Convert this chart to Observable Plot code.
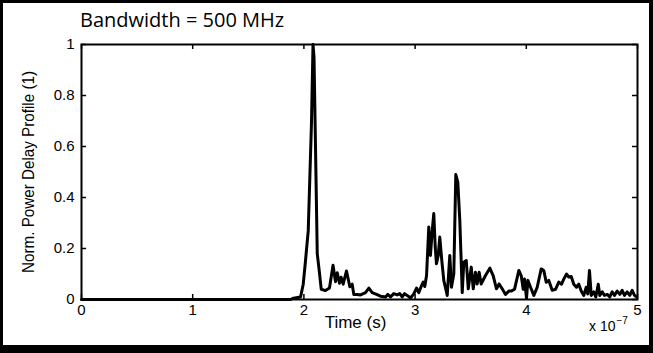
<!DOCTYPE html>
<html>
<head>
<meta charset="utf-8">
<script src="https://cdn.jsdelivr.net/npm/d3@7"></script>
<script src="https://cdn.jsdelivr.net/npm/@observablehq/plot@0.6"></script>
<style>
  html, body { margin: 0; padding: 0; background: white; }
  #wrap { position: relative; width: 653px; height: 353px; overflow: hidden; background: white; }
  #chart { position: absolute; left: 0; top: 0; }
  #border { position: absolute; left: 0; top: 0; width: 653px; height: 353px; box-sizing: border-box;
            border-style: solid; border-color: black; border-width: 3px 4px 8px 3px; pointer-events: none; }
  #title { position: absolute; left: 80px; top: 6px; font-family: "Open Sans", sans-serif; font-size: 20px; color: black; white-space: nowrap; }
</style>
</head>
<body>
<div id="wrap">
  <div id="chart"></div>
  <div id="title">Bandwidth = 500 MHz</div>
  <div id="border"></div>
</div>
<script>
const titleText = "Bandwidth = 500 MHz";
const xLabel = "Time (s)";
const yLabel = "Norm. Power Delay Profile (1)";
const xTicks = [0, 1, 2, 3, 4, 5];
const yTicks = [0, 0.2, 0.4, 0.6, 0.8, 1];
// time in units of 1e-7 s
const timeE7 = [
  0, 1.0, 1.88, 1.906, 1.97, 1.994, 2.014, 2.039, 2.068, 2.082,
  2.091, 2.102, 2.12, 2.136, 2.156, 2.194, 2.23, 2.262, 2.284, 2.30,
  2.32, 2.335, 2.353, 2.383, 2.413, 2.434, 2.449, 2.479, 2.509, 2.554,
  2.584, 2.614, 2.653, 2.689, 2.734, 2.754, 2.779, 2.808, 2.839, 2.862,
  2.884, 2.905, 2.929, 2.959, 2.988, 3.013, 3.033, 3.055, 3.073, 3.087,
  3.103, 3.123, 3.138, 3.154, 3.168, 3.181, 3.192, 3.208, 3.222, 3.24,
  3.258, 3.289, 3.312, 3.327, 3.348, 3.366, 3.384, 3.402, 3.424, 3.438,
  3.46, 3.478, 3.505, 3.523, 3.543, 3.558, 3.576, 3.594, 3.633, 3.672,
  3.702, 3.732, 3.756, 3.783, 3.813, 3.843, 3.864, 3.894, 3.933, 3.954,
  3.972, 3.984, 4.002, 4.014, 4.038, 4.068, 4.098, 4.134, 4.157, 4.179,
  4.202, 4.233, 4.263, 4.292, 4.317, 4.337, 4.362, 4.382, 4.404, 4.427,
  4.451, 4.472, 4.494, 4.517, 4.539, 4.553, 4.568, 4.584, 4.607, 4.625,
  4.647, 4.661, 4.683, 4.703, 4.728, 4.751, 4.772, 4.793, 4.817, 4.841,
  4.862, 4.883, 4.907, 4.931, 4.952, 4.973, 4.99
];
const power = [
  0, 0, 0, 0.005, 0.01, 0.06, 0.15, 0.27, 0.69, 1.0,
  0.95, 0.66, 0.18, 0.12, 0.04, 0.035, 0.045, 0.134, 0.07, 0.105,
  0.064, 0.087, 0.06, 0.112, 0.05, 0.06, 0.02, 0.02, 0.018, 0.027,
  0.045, 0.027, 0.02, 0.013, 0.01, 0.02, 0.01, 0.023, 0.018, 0.023,
  0.01, 0.023, 0.016, 0.006, 0.022, 0.045, 0.027, 0.051, 0.068, 0.051,
  0.094, 0.284, 0.173, 0.27, 0.337, 0.206, 0.14, 0.173, 0.245, 0.153,
  0.075, 0.016, 0.173, 0.048, 0.1, 0.49, 0.46, 0.31, 0.027, 0.146,
  0.153, 0.042, 0.127, 0.042, 0.107, 0.061, 0.107, 0.061, 0.094, 0.123,
  0.094, 0.042, 0.061, 0.042, 0.02, 0.033, 0.033, 0.04, 0.114, 0.094,
  0.04, 0.08, 0.004, 0.075, 0.048, 0.016, 0.048, 0.12, 0.114, 0.068,
  0.075, 0.036, 0.04, 0.068, 0.06, 0.08, 0.1, 0.088, 0.09, 0.06,
  0.048, 0.06, 0.033, 0.016, 0.048, 0.022, 0.114, 0.016, 0.03, 0.01,
  0.06, 0.016, 0.03, 0.016, 0.02, 0.01, 0.03, 0.016, 0.033, 0.02,
  0.036, 0.016, 0.03, 0.016, 0.036, 0.016, 0.01
];

const data = timeE7.map((t, i) => ({t, p: power[i]}));
document.getElementById("title").textContent = titleText;

const W = 653, H = 353;
const mL = 81, mR = 16, mT = 44, mB = 54;
const innerH = H - mT - mB, innerW = W - mL - mR;
const tick = 5;
const lblFont = "'Liberation Sans', Arial, sans-serif";

const chart = Plot.plot({
  width: W,
  height: H,
  marginLeft: mL,
  marginRight: mR,
  marginTop: mT,
  marginBottom: mB,
  style: {fontFamily: lblFont, background: "transparent", color: "black"},
  x: {domain: [0, 5], axis: null},
  y: {domain: [0, 1], axis: null},
  marks: [
    Plot.tickX(xTicks, {x: d => d, insetTop: innerH - tick, stroke: "black", strokeWidth: 1.5}),
    Plot.tickX(xTicks, {x: d => d, insetBottom: innerH - tick, stroke: "black", strokeWidth: 1.5}),
    Plot.tickY(yTicks, {y: d => d, insetRight: innerW - tick, stroke: "black", strokeWidth: 1.5}),
    Plot.tickY(yTicks, {y: d => d, insetLeft: innerW - tick, stroke: "black", strokeWidth: 1.5}),
    Plot.axisX(xTicks, {anchor: "bottom", tickSize: 0, tickPadding: 5, fontSize: 15, tickFormat: d => String(d), label: null}),
    Plot.axisY(yTicks, {anchor: "left", tickSize: 0, tickPadding: 7, fontSize: 15, tickFormat: d => String(d), label: null}),
    Plot.line(data, {x: "t", y: "p", stroke: "black", strokeWidth: 3, strokeLinejoin: "round"}),
    Plot.frame({stroke: "black", strokeWidth: 2}),
    Plot.text([xLabel], {frameAnchor: "bottom", dx: -4, dy: 28, fontSize: 17, fill: "black"}),
    Plot.text([yLabel], {frameAnchor: "left", textAnchor: "middle", lineAnchor: "middle", rotate: -90, dx: -53, fontSize: 16, fill: "black"}),
    Plot.text(["x 10"], {frameAnchor: "bottom-right", textAnchor: "end", dx: -22, dy: 31, fontSize: 14, fill: "black"}),
    Plot.text(["\u22127"], {frameAnchor: "bottom-right", textAnchor: "start", dx: -21, dy: 24, fontSize: 10, fill: "black"})
  ]
});
// condense the y label like the reference's narrow font
chart.querySelectorAll("text, tspan").forEach(el => {
  if (el.textContent.trim() === yLabel && el.children.length === 0) {
    el.setAttribute("textLength", "202");
    el.setAttribute("lengthAdjust", "spacingAndGlyphs");
  }
});
document.getElementById("chart").appendChild(chart);
</script>
</body>
</html>
